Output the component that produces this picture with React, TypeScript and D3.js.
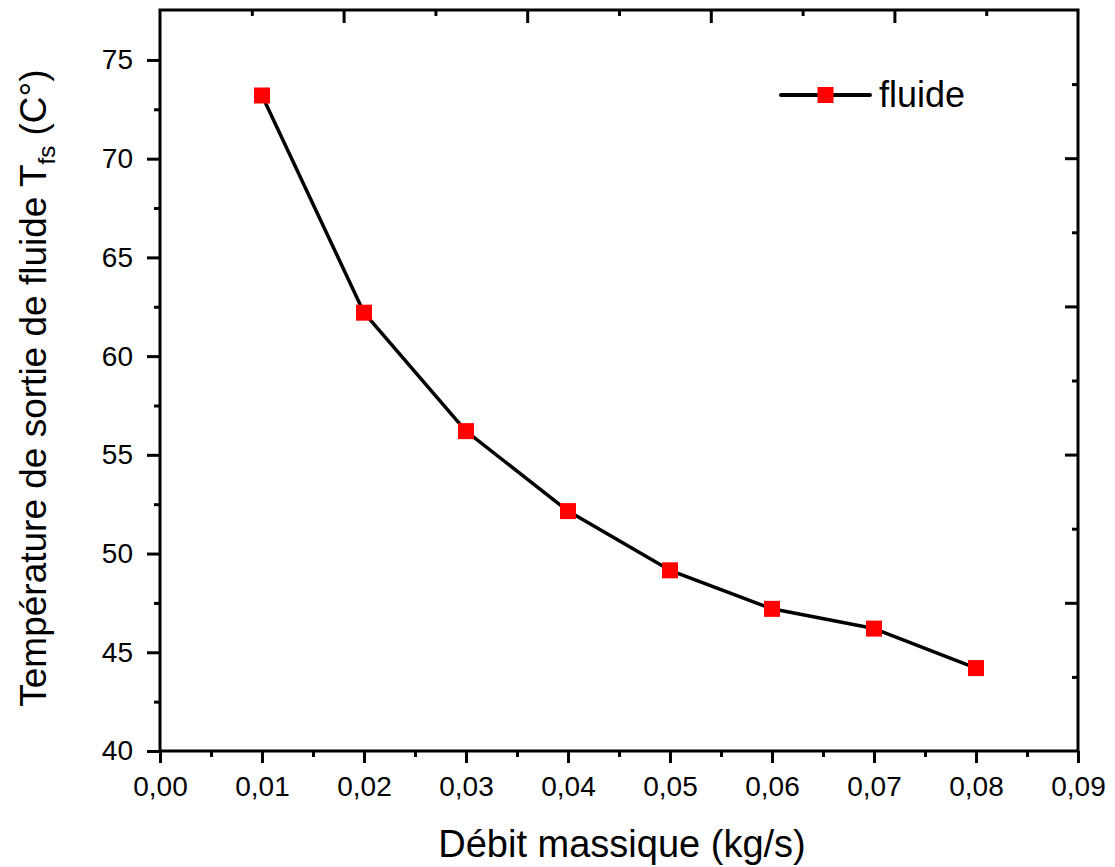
import { useEffect, useRef } from 'react';
import * as d3 from 'd3';

// débit massique (kg/s) vs température de sortie
const debit = [0.01, 0.02, 0.03, 0.04, 0.05, 0.06, 0.07, 0.08];
const tempSortie = [73.2, 62.2, 56.2, 52.15, 49.15, 47.2, 46.2, 44.2];
const xTicks = [0, 0.01, 0.02, 0.03, 0.04, 0.05, 0.06, 0.07, 0.08, 0.09];
const yTicks = [40, 45, 50, 55, 60, 65, 70, 75];
const seriesName = 'fluide';

export default function App() {
  const svgRef = useRef<SVGSVGElement>(null);

  useEffect(() => {
    document.body.style.margin = '0';
    if (!svgRef.current) return;
    const svg = d3.select(svgRef.current);
    svg.selectAll('*').remove();

    const W = 1115, H = 867;
    const margin = { top: 10, right: 37, bottom: 116, left: 160 };
    const width = W - margin.left - margin.right;
    const height = H - margin.top - margin.bottom;
    const font = 'Arial, "Liberation Sans", sans-serif';

    const x = d3.scaleLinear().domain([0, 0.09]).range([0, width]);
    const y = d3.scaleLinear().domain([40, 77.53]).range([height, 0]);
    // opposite axes in Origin have their own 5-step layout
    const xTop = d3.scaleLinear().domain([0, 1]).range([0, width]);
    const yRight = d3.scaleLinear().domain([0, 1]).range([height, 0]);

    const g = svg.append('g').attr('transform', `translate(${margin.left},${margin.top})`);

    const fmt = (d: number) => d.toFixed(2).replace('.', ',');

    const styleAxis = (sel: any) => {
      sel.select('.domain').remove();
      sel.selectAll('line').style('stroke', '#000').style('stroke-width', '3px');
      sel.selectAll('text').attr('font-family', font).attr('font-size', 28).attr('fill', '#000');
    };

    // minor ticks
    const xMinor = d3.range(0.005, 0.09, 0.01);
    const yMinor = d3.range(42.5, 77.5, 5);

    g.append('g').attr('transform', `translate(0,${height})`)
      .call(d3.axisBottom(x).tickValues(xMinor).tickSize(6).tickFormat(() => '') as any).call(styleAxis);
    g.append('g').attr('transform', `translate(0,${height})`)
      .call(d3.axisBottom(x).tickValues(xTicks).tickSize(12).tickPadding(13).tickFormat(fmt as any) as any).call(styleAxis);

    g.append('g').call(d3.axisLeft(y).tickValues(yMinor).tickSize(6).tickFormat(() => '') as any).call(styleAxis);
    g.append('g').call(d3.axisLeft(y).tickValues(yTicks).tickSize(13).tickPadding(14).tickFormat(d3.format('d') as any) as any).call(styleAxis);

    // top axis, ticks inward
    g.append('g').call(d3.axisBottom(xTop).tickValues(d3.range(0.1, 1, 0.2)).tickSize(6).tickFormat(() => '') as any).call(styleAxis);
    g.append('g').call(d3.axisBottom(xTop).tickValues([0.2, 0.4, 0.6, 0.8]).tickSize(13).tickFormat(() => '') as any).call(styleAxis);
    // right axis, ticks inward
    g.append('g').attr('transform', `translate(${width},0)`)
      .call(d3.axisLeft(yRight).tickValues(d3.range(0.1, 1, 0.2)).tickSize(6).tickFormat(() => '') as any).call(styleAxis);
    g.append('g').attr('transform', `translate(${width},0)`)
      .call(d3.axisLeft(yRight).tickValues([0.2, 0.4, 0.6, 0.8]).tickSize(13).tickFormat(() => '') as any).call(styleAxis);

    // frame
    g.append('rect')
      .attr('x', 0).attr('y', 0).attr('width', width).attr('height', height)
      .attr('fill', 'none').attr('stroke', '#000').attr('stroke-width', 3);

    const pts = debit.map((d, i) => [d, tempSortie[i]] as [number, number]);

    const line = d3.line<[number, number]>()
      .x(d => x(d[0]))
      .y(d => y(d[1]));

    g.append('path')
      .datum(pts)
      .attr('fill', 'none')
      .attr('stroke', '#000')
      .attr('stroke-width', 3.5)
      .attr('stroke-linejoin', 'round')
      .attr('d', line);

    const ms = 16;
    g.selectAll('.pt')
      .data(pts)
      .enter()
      .append('rect')
      .attr('class', 'pt')
      .attr('x', d => x(d[0]) - ms / 2)
      .attr('y', d => y(d[1]) - ms / 2)
      .attr('width', ms)
      .attr('height', ms)
      .attr('fill', '#ff0000');

    // legend
    const legend = svg.append('g').attr('transform', 'translate(781,95)');
    legend.append('line').attr('x1', 0).attr('x2', 89).attr('y1', 0).attr('y2', 0)
      .attr('stroke', '#000').attr('stroke-width', 4).attr('stroke-linecap', 'round');
    legend.append('rect').attr('x', 44.5 - ms / 2).attr('y', -ms / 2).attr('width', ms).attr('height', ms).attr('fill', '#ff0000');
    legend.append('text').attr('x', 98).attr('y', 12)
      .attr('font-family', font).attr('font-size', 36).attr('fill', '#000')
      .text(seriesName);

    // axis titles
    svg.append('text')
      .attr('x', 622)
      .attr('y', 857)
      .attr('text-anchor', 'middle')
      .attr('font-family', font).attr('font-size', 38).attr('fill', '#000')
      .text('Débit massique (kg/s)');

    const yt = svg.append('text')
      .attr('transform', 'translate(46,388) rotate(-90)')
      .attr('text-anchor', 'middle')
      .attr('font-family', font).attr('font-size', 37).attr('fill', '#000');
    yt.append('tspan').text('Température de sortie de fluide T');
    yt.append('tspan').attr('font-size', 24).attr('dy', 9).text('fs');
    yt.append('tspan').attr('dy', -9).text(' (C°)');
  }, []);

  return <svg ref={svgRef} width={1115} height={867} style={{ display: 'block', background: '#fff' }} />;
}
